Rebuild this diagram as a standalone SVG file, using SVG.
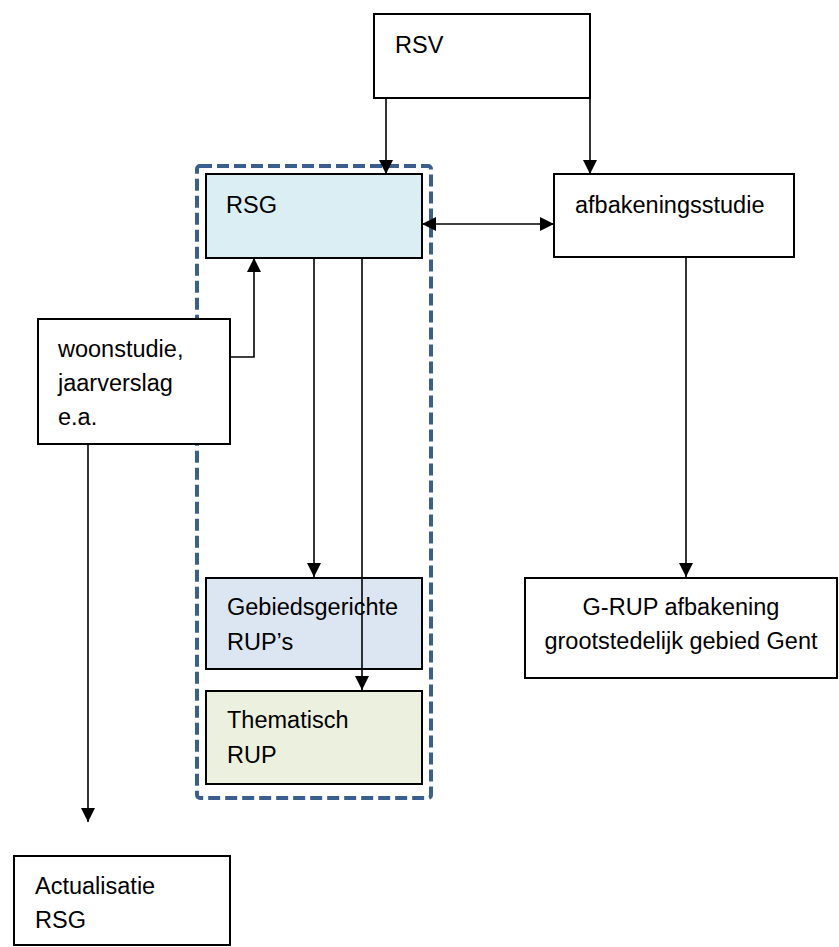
<svg xmlns="http://www.w3.org/2000/svg" width="839" height="947" viewBox="0 0 839 947">
<style>
.box{stroke:#000;stroke-width:2}
.t{font-family:"Liberation Sans",Arial,sans-serif;font-size:23.5px;fill:#000}
.c{fill:none;stroke:#000;stroke-width:1.6}
</style>
<defs>
<marker id="ah" markerUnits="userSpaceOnUse" markerWidth="14" markerHeight="14" refX="14" refY="7" orient="auto-start-reverse">
<path d="M0,0 L14,7 L0,14 z" fill="#000"/>
</marker>
</defs>
<rect width="839" height="947" fill="#fff"/>
<g id="group-rsg">
<rect x="197" y="166" width="234" height="632" rx="3" fill="none" stroke="#3A5F8E" stroke-width="4" stroke-dasharray="12,5"/>
</g>
<g id="rsv">
<rect class="box" x="374" y="14" width="216" height="84" fill="#fff"/>
<text class="t" x="395" y="53">RSV</text>
</g>
<g id="rsg">
<rect class="box" x="206" y="174" width="216" height="84" fill="#DAEEF3"/>
<text class="t" x="226" y="213">RSG</text>
</g>
<g id="afbakeningsstudie">
<rect class="box" x="554" y="174" width="240" height="83" fill="#fff"/>
<text class="t" x="575" y="213">afbakeningsstudie</text>
</g>
<g id="woonstudie">
<rect class="box" x="38" y="319" width="192" height="125" fill="#fff"/>
<text class="t" x="58" y="357">woonstudie,</text>
<text class="t" x="58" y="391">jaarverslag</text>
<text class="t" x="58" y="425">e.a.</text>
</g>
<g id="gebiedsgerichte">
<rect class="box" x="206" y="578" width="216" height="91" fill="#DCE6F2"/>
<text class="t" x="227" y="615">Gebiedsgerichte</text>
<text class="t" x="227" y="650">RUP’s</text>
</g>
<g id="thematisch">
<rect class="box" x="206" y="691" width="216" height="93" fill="#EBF1DE"/>
<text class="t" x="227" y="728">Thematisch</text>
<text class="t" x="227" y="763">RUP</text>
</g>
<g id="grup">
<rect class="box" x="525" y="578" width="312" height="100" fill="#fff"/>
<text class="t" x="681" y="615" text-anchor="middle">G-RUP afbakening</text>
<text class="t" x="681" y="649" text-anchor="middle">grootstedelijk gebied Gent</text>
</g>
<g id="actualisatie">
<rect class="box" x="14" y="856" width="216" height="89" fill="#fff"/>
<text class="t" x="35" y="894">Actualisatie</text>
<text class="t" x="35" y="928">RSG</text>
</g>
<g id="connectors">
<path class="c" d="M386,98 V174" marker-end="url(#ah)"/>
<path class="c" d="M590,98 V174" marker-end="url(#ah)"/>
<path class="c" d="M422,224 H554" marker-start="url(#ah)" marker-end="url(#ah)"/>
<path class="c" d="M686,257 V577" marker-end="url(#ah)"/>
<path class="c" d="M314,258 V577" marker-end="url(#ah)"/>
<path class="c" d="M362,258 V690" marker-end="url(#ah)"/>
<path class="c" d="M230,357 H254 V258" marker-end="url(#ah)"/>
<path class="c" d="M88,444 V822" marker-end="url(#ah)"/>
</g>
</svg>
